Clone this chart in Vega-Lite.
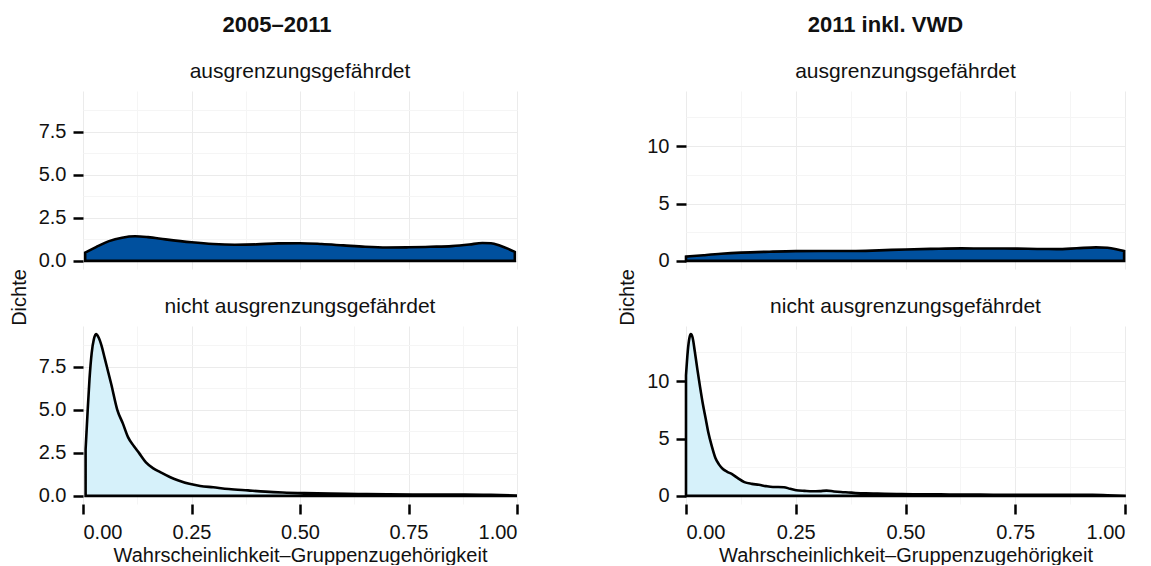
{
  "$schema": "https://vega.github.io/schema/vega-lite/v6.json",
  "background": "white",
  "padding": {"left": 9, "top": 14, "right": 0, "bottom": 0},
  "config": {
    "font": "Liberation Sans",
    "view": {"stroke": null},
    "axis": {
      "domain": false,
      "tickColor": "black",
      "tickWidth": 2.5,
      "tickSize": 10,
      "labelFontSize": 20,
      "labelColor": "#111111",
      "titleFontSize": 20,
      "titleFontWeight": "normal",
      "titleColor": "#111111",
      "gridWidth": 1
    },
    "title": {"fontSize": 21, "fontWeight": "normal", "color": "#111111", "anchor": "middle", "offset": 9}
  },
  "datasets": {
    "dichte": [
      {"periode": "A", "gruppe": "ja", "p": 0.005, "d": 0.48},
      {"periode": "A", "gruppe": "ja", "p": 0.03, "d": 0.8},
      {"periode": "A", "gruppe": "ja", "p": 0.06, "d": 1.15},
      {"periode": "A", "gruppe": "ja", "p": 0.09, "d": 1.35},
      {"periode": "A", "gruppe": "ja", "p": 0.12, "d": 1.43},
      {"periode": "A", "gruppe": "ja", "p": 0.15, "d": 1.38},
      {"periode": "A", "gruppe": "ja", "p": 0.19, "d": 1.25},
      {"periode": "A", "gruppe": "ja", "p": 0.25, "d": 1.08},
      {"periode": "A", "gruppe": "ja", "p": 0.3, "d": 0.98},
      {"periode": "A", "gruppe": "ja", "p": 0.35, "d": 0.94},
      {"periode": "A", "gruppe": "ja", "p": 0.4, "d": 0.96},
      {"periode": "A", "gruppe": "ja", "p": 0.45, "d": 1.02},
      {"periode": "A", "gruppe": "ja", "p": 0.5, "d": 1.03},
      {"periode": "A", "gruppe": "ja", "p": 0.55, "d": 0.98},
      {"periode": "A", "gruppe": "ja", "p": 0.6, "d": 0.9},
      {"periode": "A", "gruppe": "ja", "p": 0.65, "d": 0.82},
      {"periode": "A", "gruppe": "ja", "p": 0.7, "d": 0.78},
      {"periode": "A", "gruppe": "ja", "p": 0.75, "d": 0.79},
      {"periode": "A", "gruppe": "ja", "p": 0.8, "d": 0.82},
      {"periode": "A", "gruppe": "ja", "p": 0.85, "d": 0.86},
      {"periode": "A", "gruppe": "ja", "p": 0.89, "d": 0.95},
      {"periode": "A", "gruppe": "ja", "p": 0.92, "d": 1.04},
      {"periode": "A", "gruppe": "ja", "p": 0.94, "d": 1.03},
      {"periode": "A", "gruppe": "ja", "p": 0.96, "d": 0.9},
      {"periode": "A", "gruppe": "ja", "p": 0.98, "d": 0.7},
      {"periode": "A", "gruppe": "ja", "p": 0.995, "d": 0.52},

      {"periode": "A", "gruppe": "nein", "p": 0.006, "d": 2.7},
      {"periode": "A", "gruppe": "nein", "p": 0.01, "d": 4.6},
      {"periode": "A", "gruppe": "nein", "p": 0.015, "d": 6.8},
      {"periode": "A", "gruppe": "nein", "p": 0.02, "d": 8.3},
      {"periode": "A", "gruppe": "nein", "p": 0.025, "d": 9.1},
      {"periode": "A", "gruppe": "nein", "p": 0.03, "d": 9.4},
      {"periode": "A", "gruppe": "nein", "p": 0.036, "d": 9.2},
      {"periode": "A", "gruppe": "nein", "p": 0.043, "d": 8.7},
      {"periode": "A", "gruppe": "nein", "p": 0.05, "d": 8.0},
      {"periode": "A", "gruppe": "nein", "p": 0.055, "d": 7.5},
      {"periode": "A", "gruppe": "nein", "p": 0.065, "d": 6.5},
      {"periode": "A", "gruppe": "nein", "p": 0.079, "d": 5.0},
      {"periode": "A", "gruppe": "nein", "p": 0.092, "d": 4.2},
      {"periode": "A", "gruppe": "nein", "p": 0.104, "d": 3.4},
      {"periode": "A", "gruppe": "nein", "p": 0.117, "d": 2.9},
      {"periode": "A", "gruppe": "nein", "p": 0.129, "d": 2.5},
      {"periode": "A", "gruppe": "nein", "p": 0.145, "d": 1.95},
      {"periode": "A", "gruppe": "nein", "p": 0.162, "d": 1.6},
      {"periode": "A", "gruppe": "nein", "p": 0.178, "d": 1.38},
      {"periode": "A", "gruppe": "nein", "p": 0.2, "d": 1.1},
      {"periode": "A", "gruppe": "nein", "p": 0.22, "d": 0.9},
      {"periode": "A", "gruppe": "nein", "p": 0.245, "d": 0.7},
      {"periode": "A", "gruppe": "nein", "p": 0.27, "d": 0.58},
      {"periode": "A", "gruppe": "nein", "p": 0.3, "d": 0.5},
      {"periode": "A", "gruppe": "nein", "p": 0.336, "d": 0.4},
      {"periode": "A", "gruppe": "nein", "p": 0.38, "d": 0.32},
      {"periode": "A", "gruppe": "nein", "p": 0.42, "d": 0.25},
      {"periode": "A", "gruppe": "nein", "p": 0.46, "d": 0.2},
      {"periode": "A", "gruppe": "nein", "p": 0.51, "d": 0.16},
      {"periode": "A", "gruppe": "nein", "p": 0.57, "d": 0.13},
      {"periode": "A", "gruppe": "nein", "p": 0.634, "d": 0.11},
      {"periode": "A", "gruppe": "nein", "p": 0.7, "d": 0.09},
      {"periode": "A", "gruppe": "nein", "p": 0.76, "d": 0.08},
      {"periode": "A", "gruppe": "nein", "p": 0.82, "d": 0.08},
      {"periode": "A", "gruppe": "nein", "p": 0.88, "d": 0.08},
      {"periode": "A", "gruppe": "nein", "p": 0.94, "d": 0.06},
      {"periode": "A", "gruppe": "nein", "p": 0.997, "d": 0.02},

      {"periode": "B", "gruppe": "ja", "p": 0.0, "d": 0.37},
      {"periode": "B", "gruppe": "ja", "p": 0.04, "d": 0.5},
      {"periode": "B", "gruppe": "ja", "p": 0.08, "d": 0.62},
      {"periode": "B", "gruppe": "ja", "p": 0.125, "d": 0.72},
      {"periode": "B", "gruppe": "ja", "p": 0.19, "d": 0.8},
      {"periode": "B", "gruppe": "ja", "p": 0.25, "d": 0.85},
      {"periode": "B", "gruppe": "ja", "p": 0.31, "d": 0.86},
      {"periode": "B", "gruppe": "ja", "p": 0.378, "d": 0.86},
      {"periode": "B", "gruppe": "ja", "p": 0.44, "d": 0.92},
      {"periode": "B", "gruppe": "ja", "p": 0.5, "d": 1.0},
      {"periode": "B", "gruppe": "ja", "p": 0.56, "d": 1.05},
      {"periode": "B", "gruppe": "ja", "p": 0.628, "d": 1.09},
      {"periode": "B", "gruppe": "ja", "p": 0.69, "d": 1.08},
      {"periode": "B", "gruppe": "ja", "p": 0.754, "d": 1.07},
      {"periode": "B", "gruppe": "ja", "p": 0.8, "d": 1.04},
      {"periode": "B", "gruppe": "ja", "p": 0.844, "d": 1.03},
      {"periode": "B", "gruppe": "ja", "p": 0.89, "d": 1.1},
      {"periode": "B", "gruppe": "ja", "p": 0.934, "d": 1.18},
      {"periode": "B", "gruppe": "ja", "p": 0.96, "d": 1.14},
      {"periode": "B", "gruppe": "ja", "p": 0.98, "d": 1.02},
      {"periode": "B", "gruppe": "ja", "p": 0.998, "d": 0.86},

      {"periode": "B", "gruppe": "nein", "p": 0.0, "d": 10.5},
      {"periode": "B", "gruppe": "nein", "p": 0.004, "d": 12.6},
      {"periode": "B", "gruppe": "nein", "p": 0.008, "d": 13.8},
      {"periode": "B", "gruppe": "nein", "p": 0.011, "d": 14.1},
      {"periode": "B", "gruppe": "nein", "p": 0.015, "d": 13.8},
      {"periode": "B", "gruppe": "nein", "p": 0.02, "d": 12.6},
      {"periode": "B", "gruppe": "nein", "p": 0.026, "d": 11.0},
      {"periode": "B", "gruppe": "nein", "p": 0.032, "d": 9.5},
      {"periode": "B", "gruppe": "nein", "p": 0.038, "d": 8.1},
      {"periode": "B", "gruppe": "nein", "p": 0.045, "d": 6.7},
      {"periode": "B", "gruppe": "nein", "p": 0.051, "d": 5.5},
      {"periode": "B", "gruppe": "nein", "p": 0.059, "d": 4.3},
      {"periode": "B", "gruppe": "nein", "p": 0.067, "d": 3.3},
      {"periode": "B", "gruppe": "nein", "p": 0.075, "d": 2.75},
      {"periode": "B", "gruppe": "nein", "p": 0.084, "d": 2.35},
      {"periode": "B", "gruppe": "nein", "p": 0.094, "d": 2.1},
      {"periode": "B", "gruppe": "nein", "p": 0.104, "d": 1.92},
      {"periode": "B", "gruppe": "nein", "p": 0.118, "d": 1.55},
      {"periode": "B", "gruppe": "nein", "p": 0.133, "d": 1.2},
      {"periode": "B", "gruppe": "nein", "p": 0.15, "d": 1.05},
      {"periode": "B", "gruppe": "nein", "p": 0.166, "d": 0.97},
      {"periode": "B", "gruppe": "nein", "p": 0.182, "d": 0.85},
      {"periode": "B", "gruppe": "nein", "p": 0.198, "d": 0.78},
      {"periode": "B", "gruppe": "nein", "p": 0.21, "d": 0.78},
      {"periode": "B", "gruppe": "nein", "p": 0.223, "d": 0.76},
      {"periode": "B", "gruppe": "nein", "p": 0.237, "d": 0.62},
      {"periode": "B", "gruppe": "nein", "p": 0.251, "d": 0.5},
      {"periode": "B", "gruppe": "nein", "p": 0.27, "d": 0.44},
      {"periode": "B", "gruppe": "nein", "p": 0.288, "d": 0.4},
      {"periode": "B", "gruppe": "nein", "p": 0.305, "d": 0.42},
      {"periode": "B", "gruppe": "nein", "p": 0.32, "d": 0.46},
      {"periode": "B", "gruppe": "nein", "p": 0.337, "d": 0.39},
      {"periode": "B", "gruppe": "nein", "p": 0.353, "d": 0.34},
      {"periode": "B", "gruppe": "nein", "p": 0.37, "d": 0.3},
      {"periode": "B", "gruppe": "nein", "p": 0.386, "d": 0.26},
      {"periode": "B", "gruppe": "nein", "p": 0.41, "d": 0.22},
      {"periode": "B", "gruppe": "nein", "p": 0.436, "d": 0.2},
      {"periode": "B", "gruppe": "nein", "p": 0.48, "d": 0.16},
      {"periode": "B", "gruppe": "nein", "p": 0.517, "d": 0.14},
      {"periode": "B", "gruppe": "nein", "p": 0.58, "d": 0.13},
      {"periode": "B", "gruppe": "nein", "p": 0.64, "d": 0.12},
      {"periode": "B", "gruppe": "nein", "p": 0.7, "d": 0.1},
      {"periode": "B", "gruppe": "nein", "p": 0.762, "d": 0.09},
      {"periode": "B", "gruppe": "nein", "p": 0.84, "d": 0.09},
      {"periode": "B", "gruppe": "nein", "p": 0.926, "d": 0.09},
      {"periode": "B", "gruppe": "nein", "p": 0.96, "d": 0.06},
      {"periode": "B", "gruppe": "nein", "p": 0.999, "d": 0.02}
    ]
  },
  "bounds": "full",
  "spacing": 96,
  "hconcat": [
    {
      "title": {"text": "2005–2011", "fontSize": 22, "fontWeight": "bold", "frame": "bounds", "offset": 24, "dx": 12},
      "bounds": "flush",
      "spacing": 57,
      "vconcat": [
        {
          "width": 434,
          "height": 178,
          "title": "ausgrenzungsgefährdet",
          "data": {"name": "dichte"},
          "transform": [{"filter": "datum.periode === 'A' && datum.gruppe === 'ja'"}],
          "mark": {"type": "area", "fill": "#00509E", "stroke": "black", "strokeWidth": 2.6, "interpolate": "monotone"},
          "encoding": {
            "x": {
              "field": "p", "type": "quantitative",
              "scale": {"domain": [0, 1], "nice": false, "zero": false},
              "axis": {
                "values": [0, 0.125, 0.25, 0.375, 0.5, 0.625, 0.75, 0.875, 1],
                "labels": false, "ticks": false, "title": null,
                "gridColor": {"condition": {"test": "datum.value % 0.25 === 0", "value": "#EBEBEB"}, "value": "#F5F5F5"}
              }
            },
            "y": {
              "field": "d", "type": "quantitative",
              "scale": {"domain": [-0.47, 9.87], "nice": false, "zero": false},
              "axis": {
                "values": [0, 1.25, 2.5, 3.75, 5, 6.25, 7.5, 8.75],
                "labelExpr": "datum.value % 2.5 === 0 ? format(datum.value, '.1f') : ''",
                "tickOpacity": {"condition": {"test": "datum.value % 2.5 === 0", "value": 1}, "value": 0},
                "gridColor": {"condition": {"test": "datum.value % 2.5 === 0", "value": "#EBEBEB"}, "value": "#F5F5F5"},
                "labelPadding": 7,
                "title": "Dichte",
                "titleX": -58,
                "titleY": 206,
                "titleAlign": "center",
                "titleBaseline": "alphabetic"
              }
            },
            "y2": {"datum": 0}
          }
        },
        {
          "width": 434,
          "height": 178,
          "title": "nicht ausgrenzungsgefährdet",
          "data": {"name": "dichte"},
          "transform": [{"filter": "datum.periode === 'A' && datum.gruppe === 'nein'"}],
          "mark": {"type": "area", "fill": "#D6F1FA", "stroke": "black", "strokeWidth": 2.6, "interpolate": "monotone"},
          "encoding": {
            "x": {
              "field": "p", "type": "quantitative",
              "scale": {"domain": [0, 1], "nice": false, "zero": false},
              "axis": {
                "values": [0, 0.125, 0.25, 0.375, 0.5, 0.625, 0.75, 0.875, 1],
                "labelExpr": "datum.value % 0.25 === 0 ? format(datum.value, '.2f') : ''",
                "tickOpacity": {"condition": {"test": "datum.value % 0.25 === 0", "value": 1}, "value": 0},
                "gridColor": {"condition": {"test": "datum.value % 0.25 === 0", "value": "#EBEBEB"}, "value": "#F5F5F5"},
                "labelPadding": 8,
                "title": "Wahrscheinlichkeit–Gruppenzugehörigkeit",
                "titlePadding": 3
              }
            },
            "y": {
              "field": "d", "type": "quantitative",
              "scale": {"domain": [-0.47, 9.87], "nice": false, "zero": false},
              "axis": {
                "values": [0, 1.25, 2.5, 3.75, 5, 6.25, 7.5, 8.75],
                "labelExpr": "datum.value % 2.5 === 0 ? format(datum.value, '.1f') : ''",
                "tickOpacity": {"condition": {"test": "datum.value % 2.5 === 0", "value": 1}, "value": 0},
                "gridColor": {"condition": {"test": "datum.value % 2.5 === 0", "value": "#EBEBEB"}, "value": "#F5F5F5"},
                "labelPadding": 7,
                "title": null
              }
            },
            "y2": {"datum": 0}
          }
        }
      ]
    },
    {
      "title": {"text": "2011 inkl. VWD", "fontSize": 22, "fontWeight": "bold", "frame": "bounds", "offset": 24, "dx": 12},
      "bounds": "flush",
      "spacing": 57,
      "vconcat": [
        {
          "width": 439,
          "height": 178,
          "title": "ausgrenzungsgefährdet",
          "data": {"name": "dichte"},
          "transform": [{"filter": "datum.periode === 'B' && datum.gruppe === 'ja'"}],
          "mark": {"type": "area", "fill": "#00509E", "stroke": "black", "strokeWidth": 2.6, "interpolate": "monotone"},
          "encoding": {
            "x": {
              "field": "p", "type": "quantitative",
              "scale": {"domain": [0, 1], "nice": false, "zero": false},
              "axis": {
                "values": [0, 0.125, 0.25, 0.375, 0.5, 0.625, 0.75, 0.875, 1],
                "labels": false, "ticks": false, "title": null,
                "gridColor": {"condition": {"test": "datum.value % 0.25 === 0", "value": "#EBEBEB"}, "value": "#F5F5F5"}
              }
            },
            "y": {
              "field": "d", "type": "quantitative",
              "scale": {"domain": [-0.705, 14.805], "nice": false, "zero": false},
              "axis": {
                "values": [0, 2.5, 5, 7.5, 10, 12.5],
                "labelExpr": "datum.value % 5 === 0 ? format(datum.value, 'd') : ''",
                "tickOpacity": {"condition": {"test": "datum.value % 5 === 0", "value": 1}, "value": 0},
                "gridColor": {"condition": {"test": "datum.value % 5 === 0", "value": "#EBEBEB"}, "value": "#F5F5F5"},
                "labelPadding": 7,
                "title": "Dichte",
                "titleX": -53,
                "titleY": 206,
                "titleAlign": "center",
                "titleBaseline": "alphabetic"
              }
            },
            "y2": {"datum": 0}
          }
        },
        {
          "width": 439,
          "height": 178,
          "title": "nicht ausgrenzungsgefährdet",
          "data": {"name": "dichte"},
          "transform": [{"filter": "datum.periode === 'B' && datum.gruppe === 'nein'"}],
          "mark": {"type": "area", "fill": "#D6F1FA", "stroke": "black", "strokeWidth": 2.6, "interpolate": "monotone"},
          "encoding": {
            "x": {
              "field": "p", "type": "quantitative",
              "scale": {"domain": [0, 1], "nice": false, "zero": false},
              "axis": {
                "values": [0, 0.125, 0.25, 0.375, 0.5, 0.625, 0.75, 0.875, 1],
                "labelExpr": "datum.value % 0.25 === 0 ? format(datum.value, '.2f') : ''",
                "tickOpacity": {"condition": {"test": "datum.value % 0.25 === 0", "value": 1}, "value": 0},
                "gridColor": {"condition": {"test": "datum.value % 0.25 === 0", "value": "#EBEBEB"}, "value": "#F5F5F5"},
                "labelPadding": 8,
                "title": "Wahrscheinlichkeit–Gruppenzugehörigkeit",
                "titlePadding": 3
              }
            },
            "y": {
              "field": "d", "type": "quantitative",
              "scale": {"domain": [-0.705, 14.805], "nice": false, "zero": false},
              "axis": {
                "values": [0, 2.5, 5, 7.5, 10, 12.5],
                "labelExpr": "datum.value % 5 === 0 ? format(datum.value, 'd') : ''",
                "tickOpacity": {"condition": {"test": "datum.value % 5 === 0", "value": 1}, "value": 0},
                "gridColor": {"condition": {"test": "datum.value % 5 === 0", "value": "#EBEBEB"}, "value": "#F5F5F5"},
                "labelPadding": 7,
                "title": null
              }
            },
            "y2": {"datum": 0}
          }
        }
      ]
    }
  ]
}
